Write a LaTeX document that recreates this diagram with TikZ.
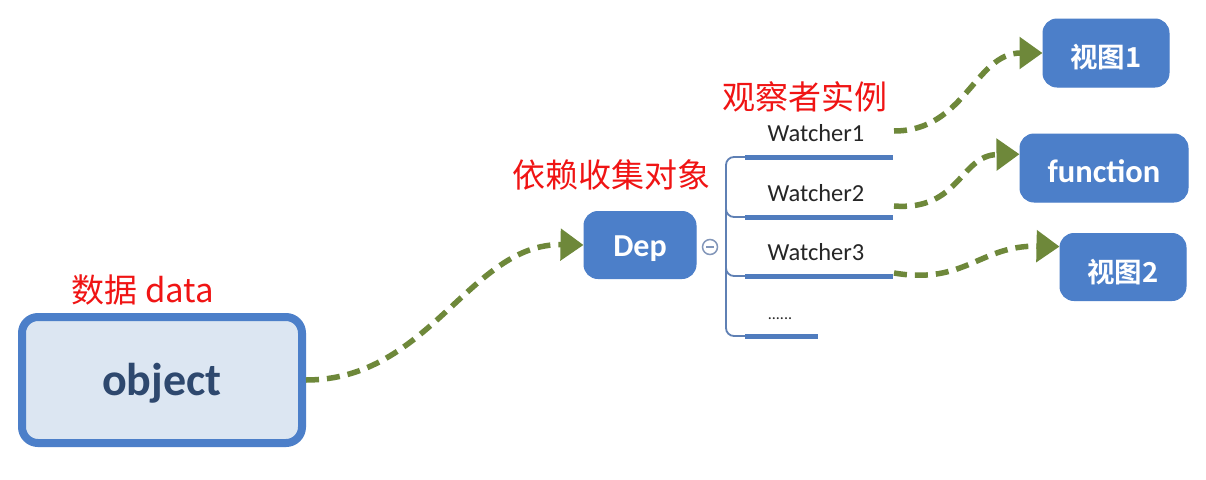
\documentclass[tikz,border=0pt]{standalone}
\usepackage{fontspec}
\setmainfont{Carlito}
\newfontfamily\cjk{Noto Sans CJK SC}[BoldFont={Noto Sans CJK SC Bold}]
\usetikzlibrary{arrows.meta,calc}
\definecolor{boxblue}{RGB}{76,127,201}
\definecolor{objfill}{RGB}{220,230,242}
\definecolor{objtext}{RGB}{46,72,110}
\definecolor{flowgreen}{RGB}{110,136,58}
\definecolor{barblue}{RGB}{80,124,190}
\definecolor{brkblue}{RGB}{95,128,180}
\definecolor{circgray}{RGB}{130,150,185}
\definecolor{lblred}{RGB}{240,20,20}
\begin{document}
\begin{tikzpicture}[x=1pt,y=-1pt,
  bluebox/.style={rectangle,rounded corners=14pt,fill=boxblue,draw=boxblue,line width=1pt,text=white,inner sep=0pt},
  flow/.style={draw=flowgreen,line width=5.5pt,dash pattern=on 13pt off 8pt,-{Triangle[length=23pt,width=31pt,fill=flowgreen]}},
  bar/.style={draw=barblue,line width=5pt},
  brk/.style={draw=brkblue,line width=1.8pt,rounded corners=8pt},
  watch/.style={font=\fontsize{24.5}{27}\selectfont,text=black!85,inner sep=0pt,anchor=base},
  redlbl/.style={font=\cjk\fontsize{33}{36}\selectfont,text=lblred,inner sep=0pt}]
\useasboundingbox (0,0) rectangle (1206,479);
\fill[white] (0,0) rectangle (1206,479);

% object box
\node[rectangle,rounded corners=16pt,draw=boxblue,fill=objfill,line width=8pt,
      minimum width=280pt,minimum height=126pt,inner sep=0pt,text height=30pt,text depth=0pt,
      font=\bfseries\fontsize{46}{50}\selectfont,text=objtext] (obj) at (162,380) {object};
\node[redlbl] (lbldata) at (143,290) {数据 data};

% Dep
\node[bluebox,minimum width=112pt,minimum height=67pt,text height=22pt,text depth=0pt,
      font=\bfseries\fontsize{32}{36}\selectfont] (dep) at (640,245) {Dep};
\node[redlbl] (lbldep) at (611,175) {依赖收集对象};

% collapse circle
\node[circle,draw=circgray,fill=white,line width=1.5pt,minimum size=15pt,inner sep=0pt] (col) at (710,247) {};
\draw[draw=circgray,line width=1.5pt] ($(col.center)+(-4,0)$) -- ($(col.center)+(4,0)$);

% bracket and bars
\coordinate (b1s) at (745,157); \coordinate (b1e) at (893,157);
\coordinate (b2s) at (745,217); \coordinate (b2e) at (893,217);
\coordinate (b3s) at (745,276); \coordinate (b3e) at (893,276);
\coordinate (b4s) at (745,336); \coordinate (b4e) at (818,336);
\coordinate (vmid) at (726,246);
\coordinate (v2top) at (726,200);
\coordinate (v3top) at (726,260);
\draw[brk] (b1s) -| (vmid) |- (b4s);
\draw[brk] (v2top) |- (b2s);
\draw[brk] (v3top) |- (b3s);
\draw[bar] (b1s) -- (b1e);
\draw[bar] (b2s) -- (b2e);
\draw[bar] (b3s) -- (b3e);
\draw[bar] (b4s) -- (b4e);

\node[watch] (w1) at (816,141) {Watcher1};
\node[watch] (w2) at (816,201) {Watcher2};
\node[watch] (w3) at (816,260) {Watcher3};
\node[watch,font=\fontsize{16}{18}\selectfont] (w4) at (780,319) {......};
\node[redlbl] (lblobs) at (805,97) {观察者实例};

% right boxes
\node[bluebox,minimum width=126pt,minimum height=68pt,text height=28pt,text depth=0pt,
      font=\cjk\bfseries\fontsize{27.5}{30}\selectfont] (v1) at (1106,53) {视图1};
\node[bluebox,minimum width=168pt,minimum height=68pt,text height=28pt,text depth=0pt,
      font=\bfseries\fontsize{32.5}{36}\selectfont] (fn) at (1104,168) {function};
\node[bluebox,minimum width=126pt,minimum height=67pt,text height=30pt,text depth=0pt,
      font=\cjk\bfseries\fontsize{27.5}{30}\selectfont] (v2) at (1123,267) {视图2};

% arrows
\coordinate (w1o) at (894,131);
\coordinate (w2o) at (894,206);
\coordinate (w3o) at (894,273);
\draw[flow] (obj.east) .. controls (430,380) and (470,243) .. (dep.west);
\draw[flow] (w1o) .. controls (965,131) and (975,53) .. (v1.west);
\draw[flow] (w2o) .. controls (960,211) and (960,155) .. ($(fn.north west)!0.3!(fn.south west)$);
\draw[flow] (w3o) .. controls (965,285) and (980,245) .. ($(v2.north west)!0.2!(v2.south west)$);
\end{tikzpicture}
\end{document}
